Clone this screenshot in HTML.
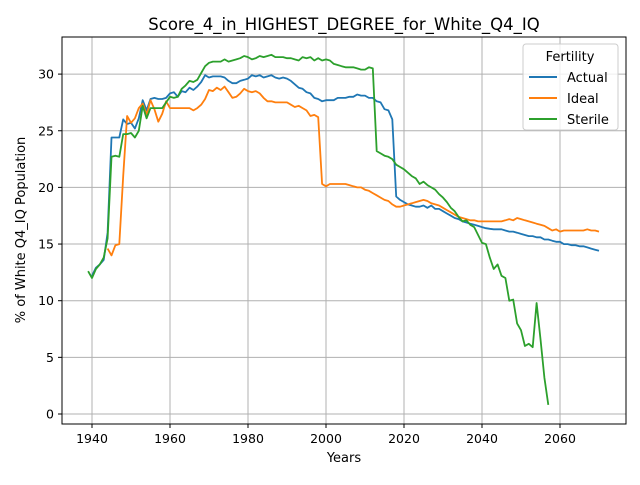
<!DOCTYPE html>
<html><head><meta charset="utf-8"><style>
body{margin:0;background:#fff;font-family:"Liberation Sans","DejaVu Sans",sans-serif}
svg text{font-family:"DejaVu Sans","Liberation Sans",sans-serif}
</style></head><body>
<svg id="chart" width="640" height="480" xmlns="http://www.w3.org/2000/svg">
<rect width="640" height="480" fill="#fff"/>
<g id="grid"></g>
<g id="series"></g>
<rect x="62" y="37" width="564" height="387" fill="none" stroke="#000" stroke-width="1"/>
<g id="ticks"></g>
<text x="344" y="30" text-anchor="middle" font-size="16.5">Score_4_in_HIGHEST_DEGREE_for_White_Q4_IQ</text>
<text x="344" y="462" text-anchor="middle" font-size="13">Years</text>
<text transform="translate(25,230) rotate(-90)" text-anchor="middle" font-size="13">% of White Q4_IQ Population</text>
<g>
<rect x="523" y="44" width="95" height="86" rx="3" fill="#fff" fill-opacity="0.8" stroke="#ccc"/>
<text x="570" y="61" text-anchor="middle" font-size="13">Fertility</text>
<g><line x1="529" y1="77" x2="557" y2="77" stroke="#1f77b4" stroke-width="2"/><text x="567" y="82" font-size="13">Actual</text></g>
<g><line x1="529" y1="98" x2="557" y2="98" stroke="#ff7f0e" stroke-width="2"/><text x="567" y="103" font-size="13">Ideal</text></g>
<g><line x1="529" y1="119" x2="557" y2="119" stroke="#2ca02c" stroke-width="2"/><text x="567" y="124" font-size="13">Sterile</text></g>
</g>
</svg>
<script>
const xTicks=[1940,1960,1980,2000,2020,2040,2060];
const yTicks=[0,5,10,15,20,25,30];
const actualStart=1940;
const actualValues=[12.2,12.9,13.2,13.6,16,24.4,24.4,24.4,26.0,25.6,25.7,25.2,26.1,27.7,26.8,27.8,27.9,27.8,27.8,27.9,28.3,28.4,28.0,28.5,28.4,28.8,28.6,28.9,29.3,29.9,29.7,29.8,29.8,29.8,29.7,29.4,29.2,29.2,29.4,29.5,29.6,29.9,29.8,29.9,29.7,29.8,29.9,29.7,29.6,29.7,29.6,29.4,29.1,28.8,28.7,28.4,28.3,27.9,27.8,27.6,27.7,27.7,27.7,27.9,27.9,27.9,28.0,28.0,28.2,28.1,28.1,27.9,27.9,27.6,27.5,26.9,26.8,26.0,19.2,18.9,18.7,18.5,18.4,18.3,18.3,18.4,18.2,18.4,18.1,18.1,17.9,17.7,17.5,17.3,17.2,17.0,16.9,16.8,16.7,16.6,16.5,16.4,16.35,16.3,16.3,16.3,16.2,16.1,16.1,16.0,15.9,15.8,15.7,15.7,15.6,15.6,15.4,15.4,15.3,15.2,15.2,15.0,15.0,14.9,14.9,14.8,14.8,14.7,14.6,14.5,14.4];
const idealStart=1944;
const idealValues=[14.6,14.0,14.9,15.0,21,26.3,25.7,26.1,27.0,27.4,26.4,27.7,26.9,25.8,26.5,27.6,27.0,27.0,27.0,27.0,27.0,27.0,26.8,27.0,27.3,27.8,28.6,28.5,28.8,28.6,28.9,28.4,27.9,28.0,28.3,28.7,28.5,28.4,28.5,28.3,27.9,27.6,27.6,27.5,27.5,27.5,27.5,27.3,27.1,27.2,27.0,26.8,26.3,26.4,26.2,20.3,20.1,20.3,20.3,20.3,20.3,20.3,20.2,20.1,20.0,20.0,19.8,19.7,19.5,19.3,19.1,18.9,18.8,18.5,18.3,18.3,18.4,18.5,18.6,18.7,18.8,18.9,18.8,18.6,18.5,18.4,18.2,18.0,17.8,17.6,17.4,17.3,17.2,17.1,17.1,17.0,17.0,17.0,17.0,17.0,17.0,17.0,17.1,17.2,17.1,17.3,17.2,17.1,17.0,16.9,16.8,16.7,16.6,16.4,16.2,16.3,16.1,16.2,16.2,16.2,16.2,16.2,16.2,16.3,16.2,16.2,16.1];
const sterileStart=1939;
const sterileValues=[12.6,12.0,12.8,13.2,13.8,15.5,22.7,22.8,22.7,24.7,24.7,24.8,24.4,25.0,27.2,26.1,27.0,27.0,27.0,27.0,27.5,28.0,27.9,28.0,28.7,29.0,29.4,29.3,29.5,30.1,30.7,31.0,31.1,31.1,31.1,31.3,31.1,31.2,31.3,31.4,31.6,31.5,31.3,31.4,31.6,31.5,31.6,31.7,31.5,31.5,31.5,31.4,31.4,31.3,31.2,31.5,31.4,31.5,31.2,31.4,31.2,31.3,31.2,30.9,30.8,30.7,30.6,30.6,30.6,30.5,30.4,30.4,30.6,30.5,23.2,23.0,22.8,22.7,22.5,22.0,21.8,21.6,21.3,21.0,20.8,20.3,20.5,20.2,20.0,19.8,19.4,19.1,18.7,18.2,17.9,17.4,17.0,17.1,16.7,16.5,15.8,15.1,15.0,13.8,12.8,13.2,12.2,12.0,10.0,10.1,8.0,7.4,6.0,6.2,5.9,9.8,6.6,3.2,0.8];
const NS="http://www.w3.org/2000/svg";
function xs(yr){return 92+(yr-1940)*3.9;}
function ys(v){return 414-v*11.33;}
const grid=document.getElementById('grid'),ticks=document.getElementById('ticks'),series=document.getElementById('series');
xTicks.forEach(t=>{
 const g=document.createElementNS(NS,'line');
 
 
 g.setAttribute('x1',xs(t));g.setAttribute('x2',xs(t));g.setAttribute('y1',37);g.setAttribute('y2',424);g.setAttribute('stroke','#b0b0b0');g.setAttribute('stroke-width','1');grid.appendChild(g);
 const tk=document.createElementNS(NS,'line');
 
 
 tk.setAttribute('x1',xs(t));tk.setAttribute('x2',xs(t));tk.setAttribute('y1',424);tk.setAttribute('y2',428);tk.setAttribute('stroke','#000');ticks.appendChild(tk);
 const tx=document.createElementNS(NS,'text');
 
 
 tx.setAttribute('x',xs(t));tx.setAttribute('y',443);tx.setAttribute('text-anchor','middle');tx.setAttribute('font-size','12.5');tx.textContent=t;ticks.appendChild(tx);
});
yTicks.forEach(t=>{
 const g=document.createElementNS(NS,'line');
 
 
 g.setAttribute('x1',62);g.setAttribute('x2',626);g.setAttribute('y1',ys(t));g.setAttribute('y2',ys(t));g.setAttribute('stroke','#b0b0b0');g.setAttribute('stroke-width','1');grid.appendChild(g);
 const tk=document.createElementNS(NS,'line');
 
 
 tk.setAttribute('x1',58);tk.setAttribute('x2',62);tk.setAttribute('y1',ys(t));tk.setAttribute('y2',ys(t));tk.setAttribute('stroke','#000');ticks.appendChild(tk);
 const tx=document.createElementNS(NS,'text');
 
 
 tx.setAttribute('x',54);tx.setAttribute('y',ys(t)+4.5);tx.setAttribute('text-anchor','end');tx.setAttribute('font-size','12.5');tx.textContent=t;ticks.appendChild(tx);
});
function draw(start,vals,color,name){
 const p=document.createElementNS(NS,'polyline');
 
 
 p.setAttribute('points',vals.map((v,i)=>xs(start+i).toFixed(1)+','+ys(v).toFixed(1)).join(' '));
 p.setAttribute('fill','none');p.setAttribute('stroke',color);p.setAttribute('stroke-width','1.8');p.setAttribute('stroke-linejoin','round');
 series.appendChild(p);
}
draw(actualStart,actualValues,'#1f77b4','actual-line');
draw(idealStart,idealValues,'#ff7f0e','ideal-line');
draw(sterileStart,sterileValues,'#2ca02c','sterile-line');
</script>
</body></html>
